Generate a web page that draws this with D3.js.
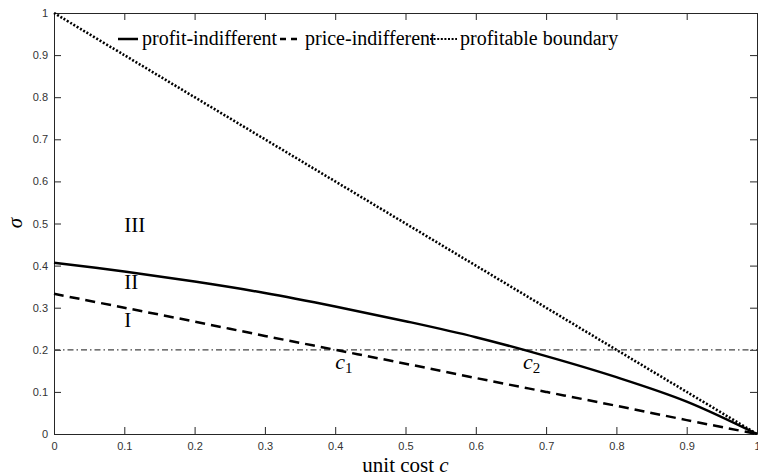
<!DOCTYPE html>
<html>
<head>
<meta charset="utf-8">
<script src="https://cdn.jsdelivr.net/npm/d3@7"></script>
<style>
  body { margin: 0; background: #fff; }
  .tick text { font-family: "Liberation Sans", Arial, sans-serif; font-size: 11px; fill: #333; }
</style>
</head>
<body>
<div id="chart"></div>
<script>
// values
var costs = [0, 0.1, 0.2, 0.3, 0.4, 0.5, 0.6, 0.7, 0.8, 0.9, 1];
var profitIndifferent = [0.407, 0.386, 0.362, 0.335, 0.303, 0.268, 0.230, 0.185, 0.135, 0.077, 0];
var priceIndifferent = [0.333, 0.300, 0.267, 0.233, 0.200, 0.167, 0.133, 0.100, 0.067, 0.033, 0];
var profitableBoundary = [1, 0.9, 0.8, 0.7, 0.6, 0.5, 0.4, 0.3, 0.2, 0.1, 0];
var sigmaLevel = 0.2;
var xTicks = [0, 0.1, 0.2, 0.3, 0.4, 0.5, 0.6, 0.7, 0.8, 0.9, 1];
var yTicks = [0, 0.1, 0.2, 0.3, 0.4, 0.5, 0.6, 0.7, 0.8, 0.9, 1];
var regionLabels = [{ text: "III", y: 0.48 }, { text: "II", y: 0.345 }, { text: "I", y: 0.255 }];
var crossLabels = [{ sub: "1", c: 0.4 }, { sub: "2", c: 0.667 }];

var width = 758, height = 476;
var margin = { left: 54, right: 1, top: 13, bottom: 42 };
var serif = '"Liberation Serif", "Times New Roman", serif';

var svg = d3.select("#chart").append("svg")
    .attr("width", width)
    .attr("height", height);

var x = d3.scaleLinear().domain([0, 1]).range([margin.left, width - margin.right]);
var y = d3.scaleLinear().domain([0, 1]).range([height - margin.bottom, margin.top]);

var axisColor = "#262626";

// axes, box style with inward ticks
svg.append("g")
    .attr("transform", "translate(0," + y(0) + ")")
    .call(d3.axisBottom(x).tickValues(xTicks).tickFormat(d3.format("")).tickSizeInner(-7).tickSizeOuter(0).tickPadding(8));
svg.append("g")
    .attr("transform", "translate(0," + y(1) + ")")
    .call(d3.axisTop(x).tickValues(xTicks).tickFormat("").tickSizeInner(-7).tickSizeOuter(0));
svg.append("g")
    .attr("transform", "translate(" + x(0) + ",0)")
    .call(d3.axisLeft(y).tickValues(yTicks).tickFormat(d3.format("")).tickSizeInner(-7).tickSizeOuter(0).tickPadding(6));
svg.append("g")
    .attr("transform", "translate(" + x(1) + ",0)")
    .call(d3.axisRight(y).tickValues(yTicks).tickFormat("").tickSizeInner(-7).tickSizeOuter(0));
svg.selectAll(".domain, .tick line").attr("stroke", axisColor).attr("stroke-width", 1);

// horizontal reference at sigma = 0.2
svg.append("line")
    .attr("x1", x(0)).attr("x2", x(1))
    .attr("y1", y(sigmaLevel)).attr("y2", y(sigmaLevel))
    .attr("stroke", "#444")
    .attr("stroke-width", 1.2)
    .attr("stroke-dasharray", "6,3,1.5,3");

function lineOf(values) {
    return d3.line()
        .x(function (d, i) { return x(costs[i]); })
        .y(function (d) { return y(d); })
        .curve(d3.curveCatmullRom)(values);
}

svg.append("path").attr("d", lineOf(profitableBoundary))
    .attr("fill", "none").attr("stroke", "#000").attr("stroke-width", 2.6)
    .attr("stroke-dasharray", "2,1.8");
svg.append("path").attr("d", lineOf(priceIndifferent))
    .attr("fill", "none").attr("stroke", "#000").attr("stroke-width", 2.5)
    .attr("stroke-dasharray", "10,6");
svg.append("path").attr("d", lineOf(profitIndifferent))
    .attr("fill", "none").attr("stroke", "#000").attr("stroke-width", 2.5);

// region labels
svg.selectAll(".region")
    .data(regionLabels)
    .enter().append("text")
    .attr("class", "region")
    .style("font-family", serif)
    .attr("x", x(0.1))
    .attr("y", function (d) { return y(d.y); })
    .attr("font-size", 21)
    .text(function (d) { return d.text; });

// c1, c2 labels
var cl = svg.selectAll(".cross")
    .data(crossLabels)
    .enter().append("text")
    .attr("class", "cross")
    .style("font-family", serif)
    .attr("x", function (d) { return x(d.c); })
    .attr("y", y(sigmaLevel) + 19)
    .attr("font-size", 22);
cl.append("tspan").attr("font-style", "italic").text("c");
cl.append("tspan").attr("font-size", 15).attr("dy", 4).text(function (d) { return d.sub; });

// axis titles
var xt = svg.append("text")
    .style("font-family", serif)
    .attr("x", (x(0) + x(1)) / 2)
    .attr("y", 472)
    .attr("text-anchor", "middle")
    .attr("font-size", 21);
xt.append("tspan").text("unit cost ");
xt.append("tspan").attr("font-style", "italic").text("c");

svg.append("text")
    .style("font-family", serif)
    .attr("transform", "translate(22,223) rotate(-90)")
    .attr("text-anchor", "middle")
    .attr("font-size", 21)
    .attr("font-style", "italic")
    .text("σ");

// legend
var legendItems = [
    { label: "profit-indifferent", x0: 118, x1: 138, tx: 142, dash: null, w: 2.5 },
    { label: "price-indifferent", x0: 280, x1: 298, tx: 305, dash: "6,5", w: 2.5 },
    { label: "profitable boundary", x0: 430, x1: 457, tx: 460, dash: "2,1.6", w: 2.2 }
];
var legend = svg.append("g");
legend.selectAll("line")
    .data(legendItems)
    .enter().append("line")
    .attr("x1", function (d) { return d.x0; })
    .attr("x2", function (d) { return d.x1; })
    .attr("y1", 39).attr("y2", 39)
    .attr("stroke", "#000")
    .attr("stroke-width", function (d) { return d.w; })
    .attr("stroke-dasharray", function (d) { return d.dash; });
legend.selectAll("text")
    .data(legendItems)
    .enter().append("text")
    .style("font-family", serif)
    .attr("x", function (d) { return d.tx; })
    .attr("y", 45)
    .attr("font-size", 20)
    .text(function (d) { return d.label; });
</script>
</body>
</html>
